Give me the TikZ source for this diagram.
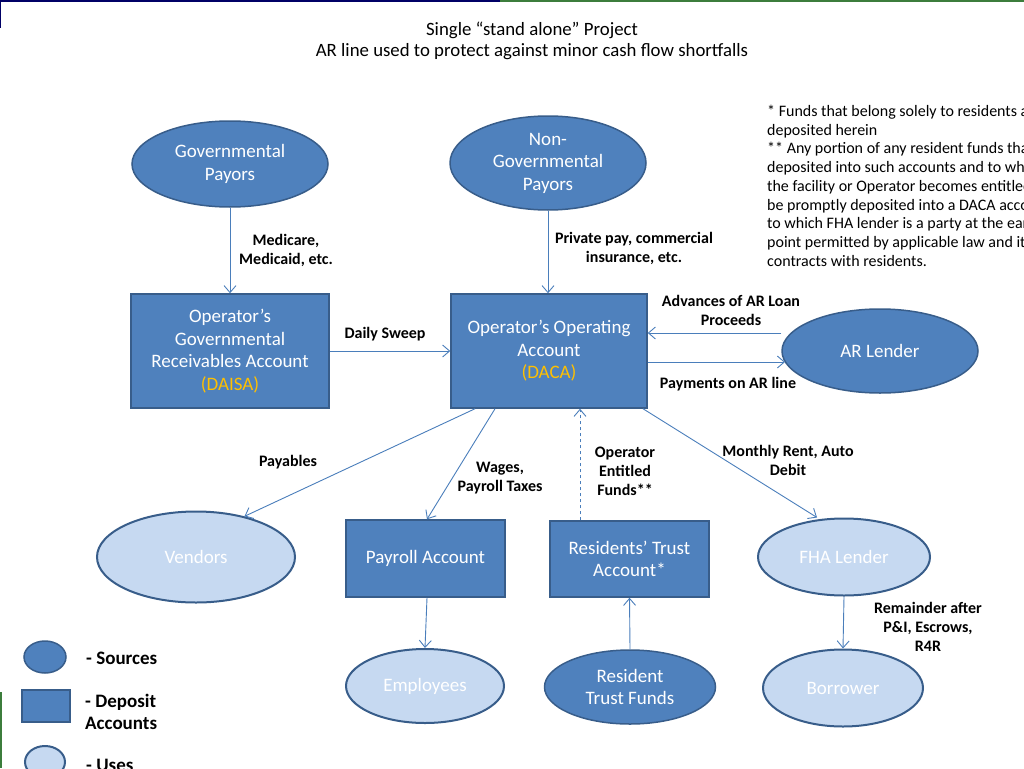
\documentclass[tikz,border=0pt]{standalone}
\usepackage{fontspec}
\setmainfont{Carlito}
\usetikzlibrary{arrows.meta,shapes.geometric}
\definecolor{darkfill}{HTML}{4F81BD}
\definecolor{edgeblue}{HTML}{385D8A}
\definecolor{lightfill}{HTML}{C6D9F1}
\definecolor{arrowblue}{HTML}{4A7EBB}
\definecolor{gold}{HTML}{FFC000}
\definecolor{navyline}{HTML}{000066}
\definecolor{greenline}{HTML}{3C7D3C}
\tikzset{
  src/.style={ellipse, draw=edgeblue, line width=1.5pt, fill=darkfill, text=white, inner sep=0pt, align=center, font=\fontsize{19}{22.5}\selectfont},
  use/.style={ellipse, draw=edgeblue, line width=2pt, fill=lightfill, text=white, inner sep=0pt, align=center, font=\fontsize{19}{22.5}\selectfont},
  acct/.style={rectangle, draw=edgeblue, line width=1.5pt, fill=darkfill, text=white, inner sep=0pt, align=center, font=\fontsize{19}{22.5}\selectfont},
  flow/.style={draw=arrowblue, line width=0.9pt, -{Straight Barb[length=7pt,width=12pt,line width=0.9pt]}},
  lbl/.style={font=\bfseries\fontsize{16}{19}\selectfont, align=center, text=black, inner sep=0pt},
  legtxt/.style={font=\bfseries\fontsize{19}{22}\selectfont, align=left, anchor=west, inner sep=0pt},
}
\begin{document}
\begin{tikzpicture}[x=1pt,y=-1pt]
\useasboundingbox (0,0) rectangle (1024,768);
% slide edge lines
\draw[navyline, line width=2pt] (0,28) -- (0,1) -- (500,1);
\draw[greenline, line width=2pt] (500,1) -- (1024,1);
\draw[greenline, line width=1.5pt] (1,692) -- (1,768);
% title
\node[font=\fontsize{18.8}{21.5}\selectfont, align=center, anchor=north] (title) at (532,18) {Single “stand alone” Project\\AR line used to protect against minor cash flow shortfalls};
% footnote
\node[font=\fontsize{16}{18.7}\selectfont, align=left, anchor=north west, inner sep=0pt] (note) at (767,105) {* Funds that belong solely to residents are\\deposited herein\\** Any portion of any resident funds that are\\deposited into such accounts and to which\\the facility or Operator becomes entitled shall\\be promptly deposited into a DACA account\\to which FHA lender is a party at the earliest\\point permitted by applicable law and its\\contracts with residents.};
% nodes
\node[src, minimum width=196pt, minimum height=86pt] (gp) at (230,164) {Governmental\\Payors};
\node[src, minimum width=196pt, minimum height=94pt] (ngp) at (548,163) {Non-\\Governmental\\Payors};
\node[acct, minimum width=198pt, minimum height=114pt] (gra) at (230,351) {Operator’s\\Governmental\\Receivables Account\\\textcolor{gold}{(DAISA)}};
\node[acct, minimum width=196pt, minimum height=114pt] (oa) at (549,351) {Operator’s Operating\\Account\\\textcolor{gold}{(DACA)}};
\node[src, minimum width=196pt, minimum height=84pt] (arl) at (880,351) {AR Lender};
\node[use, minimum width=198pt, minimum height=91pt] (ven) at (196,557) {Vendors};
\node[acct, minimum width=159pt, minimum height=77pt] (pay) at (425.5,558.5) {Payroll Account};
\node[acct, minimum width=159pt, minimum height=76pt] (rta) at (629.5,559) {Residents’ Trust\\Account*};
\node[use, minimum width=172pt, minimum height=77pt] (fha) at (844,557) {FHA Lender};
\node[use, minimum width=158pt, minimum height=74pt] (emp) at (425,686) {Employees};
\node[src, minimum width=171pt, minimum height=74pt] (rtf) at (630,687) {Resident\\Trust Funds};
\node[use, minimum width=160pt, minimum height=77pt] (bor) at (843,688) {Borrower};
% connectors
\draw[flow] (gp.south) -- (gra.north);
\node[lbl] (l1) at (286,250) {Medicare,\\Medicaid, etc.};
\draw[flow] (ngp.south) -- (ngp.south |- oa.north);
\node[lbl] (l2) at (634,248) {Private pay, commercial\\insurance, etc.};
\draw[flow] (gra.east) -- (gra.east -| oa.west);
\node[lbl] (l3) at (385,334) {Daily Sweep};
\coordinate (arl1) at ([yshift=18pt]arl.west);
\draw[flow] (arl1) -- (arl1 -| oa.east);
\node[lbl] (l4) at (731,310) {Advances of AR Loan\\Proceeds};
\coordinate (oa1) at ([yshift=-11pt]oa.east);
\draw[flow] (oa1) -- (785,362);
\node[lbl] (l5) at (728,384) {Payments on AR line};
\draw[flow] ([xshift=-74pt]oa.south) -- (ven.40);
\node[lbl] (l6) at (288,462) {Payables};
\draw[flow] ([xshift=-54pt]oa.south) -- ([xshift=1.5pt]pay.north);
\node[lbl] (l7) at (500,478) {Wages,\\Payroll Taxes};
\draw[flow, dashed] ([xshift=-49.5pt]rta.north) -- ([xshift=31pt]oa.south);
\node[lbl] (l8) at (625,471) {Operator\\Entitled\\Funds**};
\draw[flow] ([xshift=94pt]oa.south) -- ([xshift=-27pt]fha.north);
\node[lbl] (l9) at (788,460) {Monthly Rent, Auto\\Debit};
\draw[flow] ([xshift=1.5pt]pay.south) -- (emp.north);
\draw[flow] (rtf.north) -- (rta.south);
\draw[flow] (fha.south) -- (bor.north);
\node[lbl] (l10) at (928,627) {Remainder after\\P\&I, Escrows,\\R4R};
% legend
\node[src, minimum width=42pt, minimum height=32pt] (lg1) at (45,657) {};
\node[legtxt] (lt1) at (86,658) {- Sources};
\node[acct, minimum width=48pt, minimum height=32pt] (lg2) at (46,706) {};
\node[legtxt] (lt2) at (85,712) {- Deposit\\Accounts};
\node[use, minimum width=40pt, minimum height=32pt] (lg3) at (45,762) {};
\node[legtxt] (lt3) at (86,765) {- Uses};
\end{tikzpicture}
\end{document}
